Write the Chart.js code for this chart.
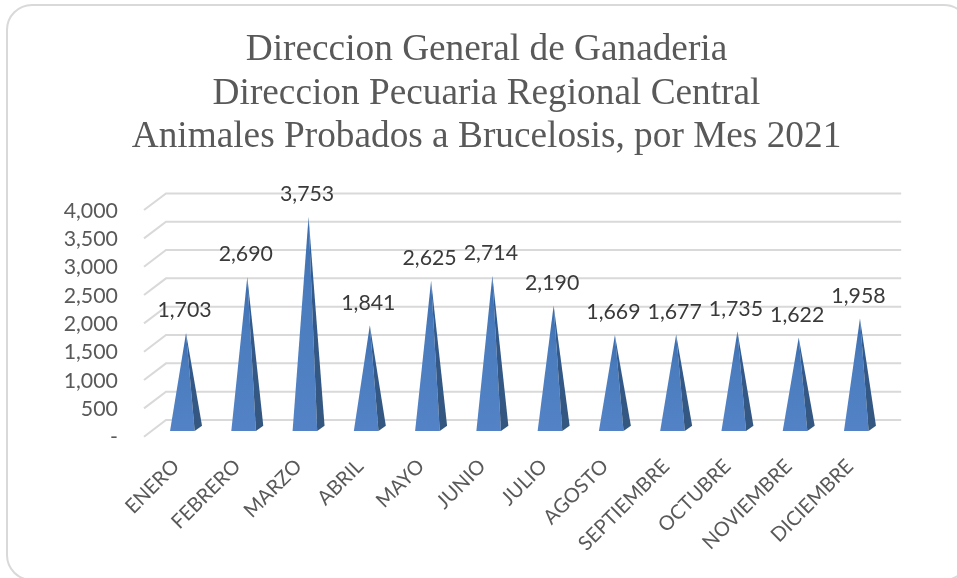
<!DOCTYPE html>
<html>
<head>
<meta charset="utf-8">
<style>html,body{margin:0;padding:0;background:#fff}canvas{display:block}</style>
<script src="https://cdn.jsdelivr.net/npm/chart.js@4/dist/chart.umd.js"></script>
</head>
<body>
<canvas id="c" width="957" height="578"></canvas>
<script>
const titleLines = ['Direccion General de Ganaderia','Direccion Pecuaria Regional Central','Animales Probados a Brucelosis, por Mes 2021'];
const months = ['ENERO','FEBRERO','MARZO','ABRIL','MAYO','JUNIO','JULIO','AGOSTO','SEPTIEMBRE','OCTUBRE','NOVIEMBRE','DICIEMBRE'];
const animals = [1703,2690,3753,1841,2625,2714,2190,1669,1677,1735,1622,1958];
const fmt = v => v === 0 ? '-' : v.toLocaleString('en-US');

const WALL_BACK = {dx: 10.6, dy: -11};
const WALL_FRONT = {dx: -11.4, dy: 5.7};

class PyramidElement extends Chart.BarElement {
  static id = 'pyramid';
  draw(ctx) {
    const {x, y, base, width} = this.getProps(['x','y','base','width']);
    const left = x - width/2, frontW = width*0.77, right = left + frontW, sideX = x + width/2, apexY = y - 1.5;
    let g = ctx.createLinearGradient(0, apexY, 0, base);
    g.addColorStop(0, '#3a6cad'); g.addColorStop(0.35, '#4a7cbe'); g.addColorStop(1, '#5383c6');
    ctx.save();
    ctx.fillStyle = g;
    ctx.beginPath(); ctx.moveTo(left, base); ctx.lineTo(right, base); ctx.lineTo(x, apexY); ctx.closePath(); ctx.fill();
    let s = ctx.createLinearGradient(0, apexY, 0, base);
    s.addColorStop(0, '#2f62a0'); s.addColorStop(0.4, '#33598a'); s.addColorStop(1, '#34577f');
    ctx.fillStyle = s;
    ctx.beginPath(); ctx.moveTo(right, base); ctx.lineTo(sideX, base - 5.3); ctx.lineTo(x, apexY); ctx.closePath(); ctx.fill();
    ctx.restore();
  }
}
class PyramidController extends Chart.BarController {
  static id = 'pyramid';
  static defaults = Object.assign({}, Chart.BarController.defaults, {dataElementType: 'pyramid'});
}
Chart.register(PyramidElement, PyramidController);

const cardPlugin = {
  id: 'card',
  afterLayout(chart) { chart.scales.y.left = 0; },
  beforeDraw(chart) {
    const ctx = chart.ctx;
    ctx.save();
    ctx.fillStyle = '#fff'; ctx.fillRect(0, 0, chart.width, chart.height);
    ctx.strokeStyle = '#d9d9d9'; ctx.lineWidth = 2;
    ctx.beginPath(); ctx.roundRect(7, 5, 962, 575, 25); ctx.stroke();
    ctx.restore();
  }
};
const wallPlugin = {
  id: 'walls',
  beforeDatasetsDraw(chart) {
    const {ctx, chartArea: a, scales: {y}} = chart;
    ctx.save();
    ctx.strokeStyle = '#d9d9d9'; ctx.lineWidth = 2;
    y.ticks.forEach(t => {
      const p = y.getPixelForValue(t.value);
      ctx.beginPath();
      ctx.moveTo(a.left + WALL_FRONT.dx, p + WALL_FRONT.dy);
      ctx.lineTo(a.left + WALL_BACK.dx, p + WALL_BACK.dy);
      ctx.lineTo(a.right + WALL_BACK.dx, p + WALL_BACK.dy);
      ctx.stroke();
    });
    ctx.restore();
  }
};
const labelPlugin = {
  id: 'valueLabels',
  afterDatasetsDraw(chart) {
    const ctx = chart.ctx, meta = chart.getDatasetMeta(0);
    ctx.save();
    ctx.font = '21.3px Lato'; ctx.fillStyle = '#3a3a3a'; ctx.textAlign = 'center'; ctx.textBaseline = 'middle';
    meta.data.forEach((el, i) => ctx.fillText(fmt(animals[i]), el.x - 1.5, el.y - 24));
    ctx.restore();
  }
};

new Chart(document.getElementById('c'), {
  type: 'pyramid',
  data: {labels: months, datasets: [{label: 'Animales Probados', data: animals, backgroundColor: '#5383c6', categoryPercentage: 1, barPercentage: 0.522}]},
  options: {
    responsive: false, animation: false,
    layout: {padding: {left: 82.4, right: 66.4, top: 0, bottom: 0}},
    plugins: {
      legend: {display: false}, tooltip: {enabled: false},
      title: {display: true, text: titleLines, color: '#595959',
        font: {family: '"Liberation Serif"', size: 37.3, weight: 'normal', lineHeight: 1.166},
        padding: {top: 28.5, bottom: 45.4}}
    },
    scales: {
      x: {type: 'category', grid: {display: false}, border: {display: false},
        ticks: {autoSkip: false, maxRotation: 45, minRotation: 45, color: '#595959', font: {family: 'Lato', size: 20}, padding: 15.5, labelOffset: -10},
        afterFit(s) { s.height = 147; }},
      y: {type: 'linear', min: 0, max: 4000, grid: {display: false}, border: {display: false},
        ticks: {autoSkip: false, stepSize: 500, color: '#595959', font: {family: 'Lato', size: 21.3}, padding: 29.5, labelOffset: 6.5, callback: v => fmt(v)},
        afterFit(s) { s.width = 73; }}
    }
  },
  plugins: [cardPlugin, wallPlugin, labelPlugin]
});
</script>
</body>
</html>
